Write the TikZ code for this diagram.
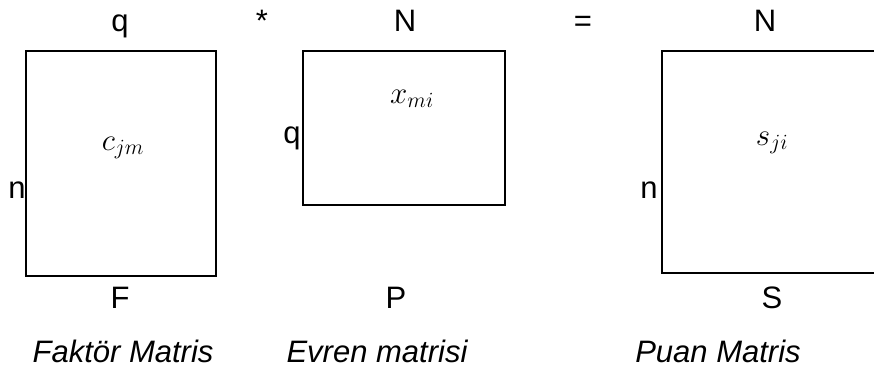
\RequirePackage{fix-cm}
\documentclass[tikz,border=0pt]{standalone}
\usepackage{fontspec}
\setmainfont{Liberation Sans}
\begin{document}
\begin{tikzpicture}[x=1pt,y=-1pt,
  lbl/.style={anchor=base,inner sep=0pt,font=\fontsize{31}{37}\selectfont},
  caption/.style={anchor=base,inner sep=0pt,font=\fontsize{31}{37}\selectfont\itshape},
  mlbl/.style={anchor=base,inner sep=0pt,font=\fontsize{31}{37}\selectfont},
  mbox/.style={draw=black,line width=1.6pt}]
\useasboundingbox (0,0) rectangle (874,369);
% Box 1
\draw[mbox] (26,51) rectangle (216,276);
\node[lbl] (q1) at (120,32) {q};
\node[lbl] (n1) at (17,198) {n};
\node[lbl] (F) at (120,308) {F};
\node[mlbl] (c) at (123,150) {$c_{jm}$};
\node[caption] (t1) at (123,362) {Faktör Matris};
% operator
\node[lbl] (star) at (262,32) {*};
% Box 2
\draw[mbox] (303,51) rectangle (505,205);
\node[lbl] (N2) at (405,32) {N};
\node[lbl] (q2) at (292,143) {q};
\node[mlbl] (x) at (412,103) {$x_{mi}$};
\node[lbl] (P) at (396,308) {P};
\node[caption] (t2) at (377,362) {Evren matrisi};
% operator
\node[lbl] (eq) at (583,32) {=};
% Box 3
\draw[mbox] (880,51) -- (662,51) -- (662,273) -- (880,273);
\node[lbl] (N3) at (765,32) {N};
\node[lbl] (n3) at (649,198) {n};
\node[mlbl] (s) at (772,145) {$s_{ji}$};
\node[lbl] (S) at (772,308) {S};
\node[caption] (t3) at (718,362) {Puan Matris};
\end{tikzpicture}
\end{document}
